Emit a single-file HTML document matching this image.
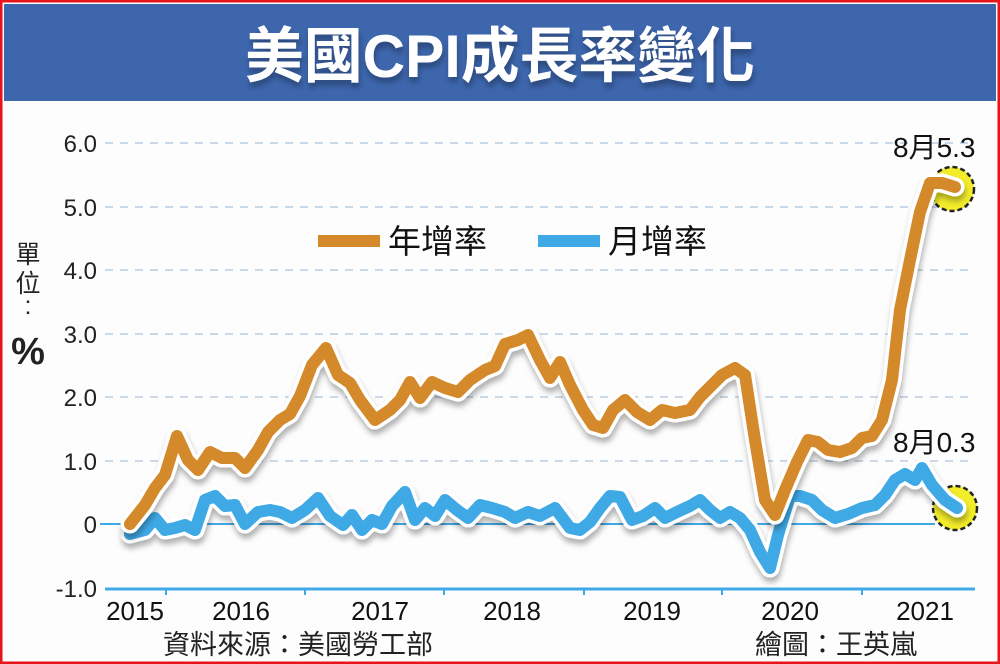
<!DOCTYPE html>
<html><head><meta charset="utf-8"><style>
html,body{margin:0;padding:0;background:#fff;}
svg{display:block;}
text{font-family:"Liberation Sans","Noto Sans CJK TC",sans-serif;}
</style></head><body>
<svg width="1000" height="664" viewBox="0 0 1000 664" xmlns="http://www.w3.org/2000/svg">
<defs>
<filter id="sh" x="-10%" y="-10%" width="120%" height="130%"><feDropShadow dx="1" dy="5" stdDeviation="3" flood-color="#000" flood-opacity="0.3"/></filter>
</defs>
<rect x="0" y="0" width="1000" height="664" fill="#fdfdfd"/>
<rect x="1" y="1" width="998" height="662" fill="none" stroke="#e8141c" stroke-width="3"/>
<rect x="4" y="4" width="992" height="97" fill="#3d66ad"/>
<text x="500" y="77" text-anchor="middle" font-size="60" font-weight="bold" fill="#fff" textLength="510" lengthAdjust="spacingAndGlyphs" filter="url(#sh)">美國CPI成長率變化</text>
<g stroke="#b9cde0" stroke-width="1.5" stroke-dasharray="8,7">
<line x1="105" y1="143" x2="975" y2="143"/><line x1="105" y1="207" x2="975" y2="207"/>
<line x1="105" y1="270" x2="975" y2="270"/><line x1="105" y1="334" x2="975" y2="334"/>
<line x1="105" y1="397" x2="975" y2="397"/><line x1="105" y1="461" x2="975" y2="461"/>
</g>
<line x1="100" y1="524" x2="935" y2="524" stroke="#3fa9e6" stroke-width="2"/>
<line x1="105" y1="589" x2="975" y2="589" stroke="#3fa9e6" stroke-width="3"/>
<g stroke="#3fa9e6" stroke-width="2"><line x1="166" y1="589" x2="166" y2="595"/><line x1="305" y1="589" x2="305" y2="595"/><line x1="444" y1="589" x2="444" y2="595"/><line x1="584" y1="589" x2="584" y2="595"/><line x1="722" y1="589" x2="722" y2="595"/><line x1="862" y1="589" x2="862" y2="595"/></g>
<g font-size="24" fill="#222" text-anchor="end">
<text x="97" y="152">6.0</text><text x="97" y="216">5.0</text><text x="97" y="279">4.0</text><text x="97" y="343">3.0</text><text x="97" y="406">2.0</text><text x="97" y="470">1.0</text><text x="97" y="533">0</text><text x="97" y="597">-1.0</text>
</g>
<g font-size="26" fill="#111" text-anchor="middle">
<text x="135" y="620">2015</text><text x="241" y="620">2016</text><text x="380" y="620">2017</text><text x="512" y="620">2018</text><text x="652" y="620">2019</text><text x="790" y="620">2020</text><text x="925" y="620">2021</text>
</g>
<g font-size="25" fill="#222" text-anchor="middle"><text x="28" y="263">單</text><text x="28" y="292">位</text><text x="28" y="314">:</text><text x="28" y="364" font-size="38" font-weight="bold">%</text></g>
<g font-size="27" fill="#222"><text x="163" y="654">資料來源：美國勞工部</text><text x="755" y="654">繪圖：王英嵐</text></g>
<rect x="318" y="235" width="62" height="12" fill="#d4892a"/>
<text x="388" y="253" font-size="33" fill="#111">年增率</text>
<rect x="538" y="235" width="62" height="12" fill="#3fa9e6"/>
<text x="608" y="253" font-size="33" fill="#111">月增率</text>
<circle cx="952" cy="189" r="22" fill="#f2ec2a" stroke="#222" stroke-width="2.5" stroke-dasharray="5,3"/>
<circle cx="955" cy="508" r="22" fill="#f2ec2a" stroke="#222" stroke-width="2.5" stroke-dasharray="5,3"/>
<g fill="none" stroke-linejoin="round" stroke-linecap="round">
<polyline filter="url(#sh)" stroke="#fff" stroke-width="19" points="130,534 145,530 155,518 165,530 175,528 185,525 195,530 205,500 215,496 225,506 235,505 245,524 258,512 270,510 280,512 292,518 305,510 318,498 330,516 343,525 352,515 362,530 372,520 382,524 392,506 405,492 415,520 425,508 435,516 445,500 457,510 468,518 480,505 492,508 505,512 515,518 528,512 540,516 555,508 570,528 580,530 590,522 600,508 610,496 620,497 632,520 643,516 655,508 665,518 677,512 690,506 700,500 710,510 720,518 730,512 740,518 750,530 760,552 770,568 778,535 790,496 800,496 812,500 822,510 835,518 848,514 862,508 875,505 885,495 895,480 905,474 915,480 922,468 932,485 945,500 957,508"/>
<polyline stroke="#3fa9e6" stroke-width="12" points="130,534 145,530 155,518 165,530 175,528 185,525 195,530 205,500 215,496 225,506 235,505 245,524 258,512 270,510 280,512 292,518 305,510 318,498 330,516 343,525 352,515 362,530 372,520 382,524 392,506 405,492 415,520 425,508 435,516 445,500 457,510 468,518 480,505 492,508 505,512 515,518 528,512 540,516 555,508 570,528 580,530 590,522 600,508 610,496 620,497 632,520 643,516 655,508 665,518 677,512 690,506 700,500 710,510 720,518 730,512 740,518 750,530 760,552 770,568 778,535 790,496 800,496 812,500 822,510 835,518 848,514 862,508 875,505 885,495 895,480 905,474 915,480 922,468 932,485 945,500 957,508"/>
<polyline filter="url(#sh)" stroke="#fff" stroke-width="19" points="130,524 145,505 155,488 165,475 177,436 188,460 198,470 210,452 222,458 235,458 245,468 258,450 268,432 280,420 290,414 300,396 312,365 326,348 338,375 350,383 360,400 375,420 390,410 400,400 410,382 420,398 432,382 445,388 458,392 470,380 485,370 495,366 505,344 518,340 528,335 540,360 550,378 560,362 570,385 583,410 593,425 603,428 613,410 625,400 637,412 650,420 662,410 675,413 690,410 700,397 712,385 722,375 735,368 745,375 755,440 765,500 775,515 785,490 797,462 808,440 818,442 828,450 840,452 852,448 862,438 872,436 882,420 892,380 900,310 910,260 920,212 930,183 942,183 955,187"/>
<polyline stroke="#d4892a" stroke-width="12" points="130,524 145,505 155,488 165,475 177,436 188,460 198,470 210,452 222,458 235,458 245,468 258,450 268,432 280,420 290,414 300,396 312,365 326,348 338,375 350,383 360,400 375,420 390,410 400,400 410,382 420,398 432,382 445,388 458,392 470,380 485,370 495,366 505,344 518,340 528,335 540,360 550,378 560,362 570,385 583,410 593,425 603,428 613,410 625,400 637,412 650,420 662,410 675,413 690,410 700,397 712,385 722,375 735,368 745,375 755,440 765,500 775,515 785,490 797,462 808,440 818,442 828,450 840,452 852,448 862,438 872,436 882,420 892,380 900,310 910,260 920,212 930,183 942,183 955,187"/>
</g>
<g font-size="28" fill="#111"><text x="893" y="157">8月5.3</text><text x="893" y="452">8月0.3</text></g>
</svg>
</body></html>
